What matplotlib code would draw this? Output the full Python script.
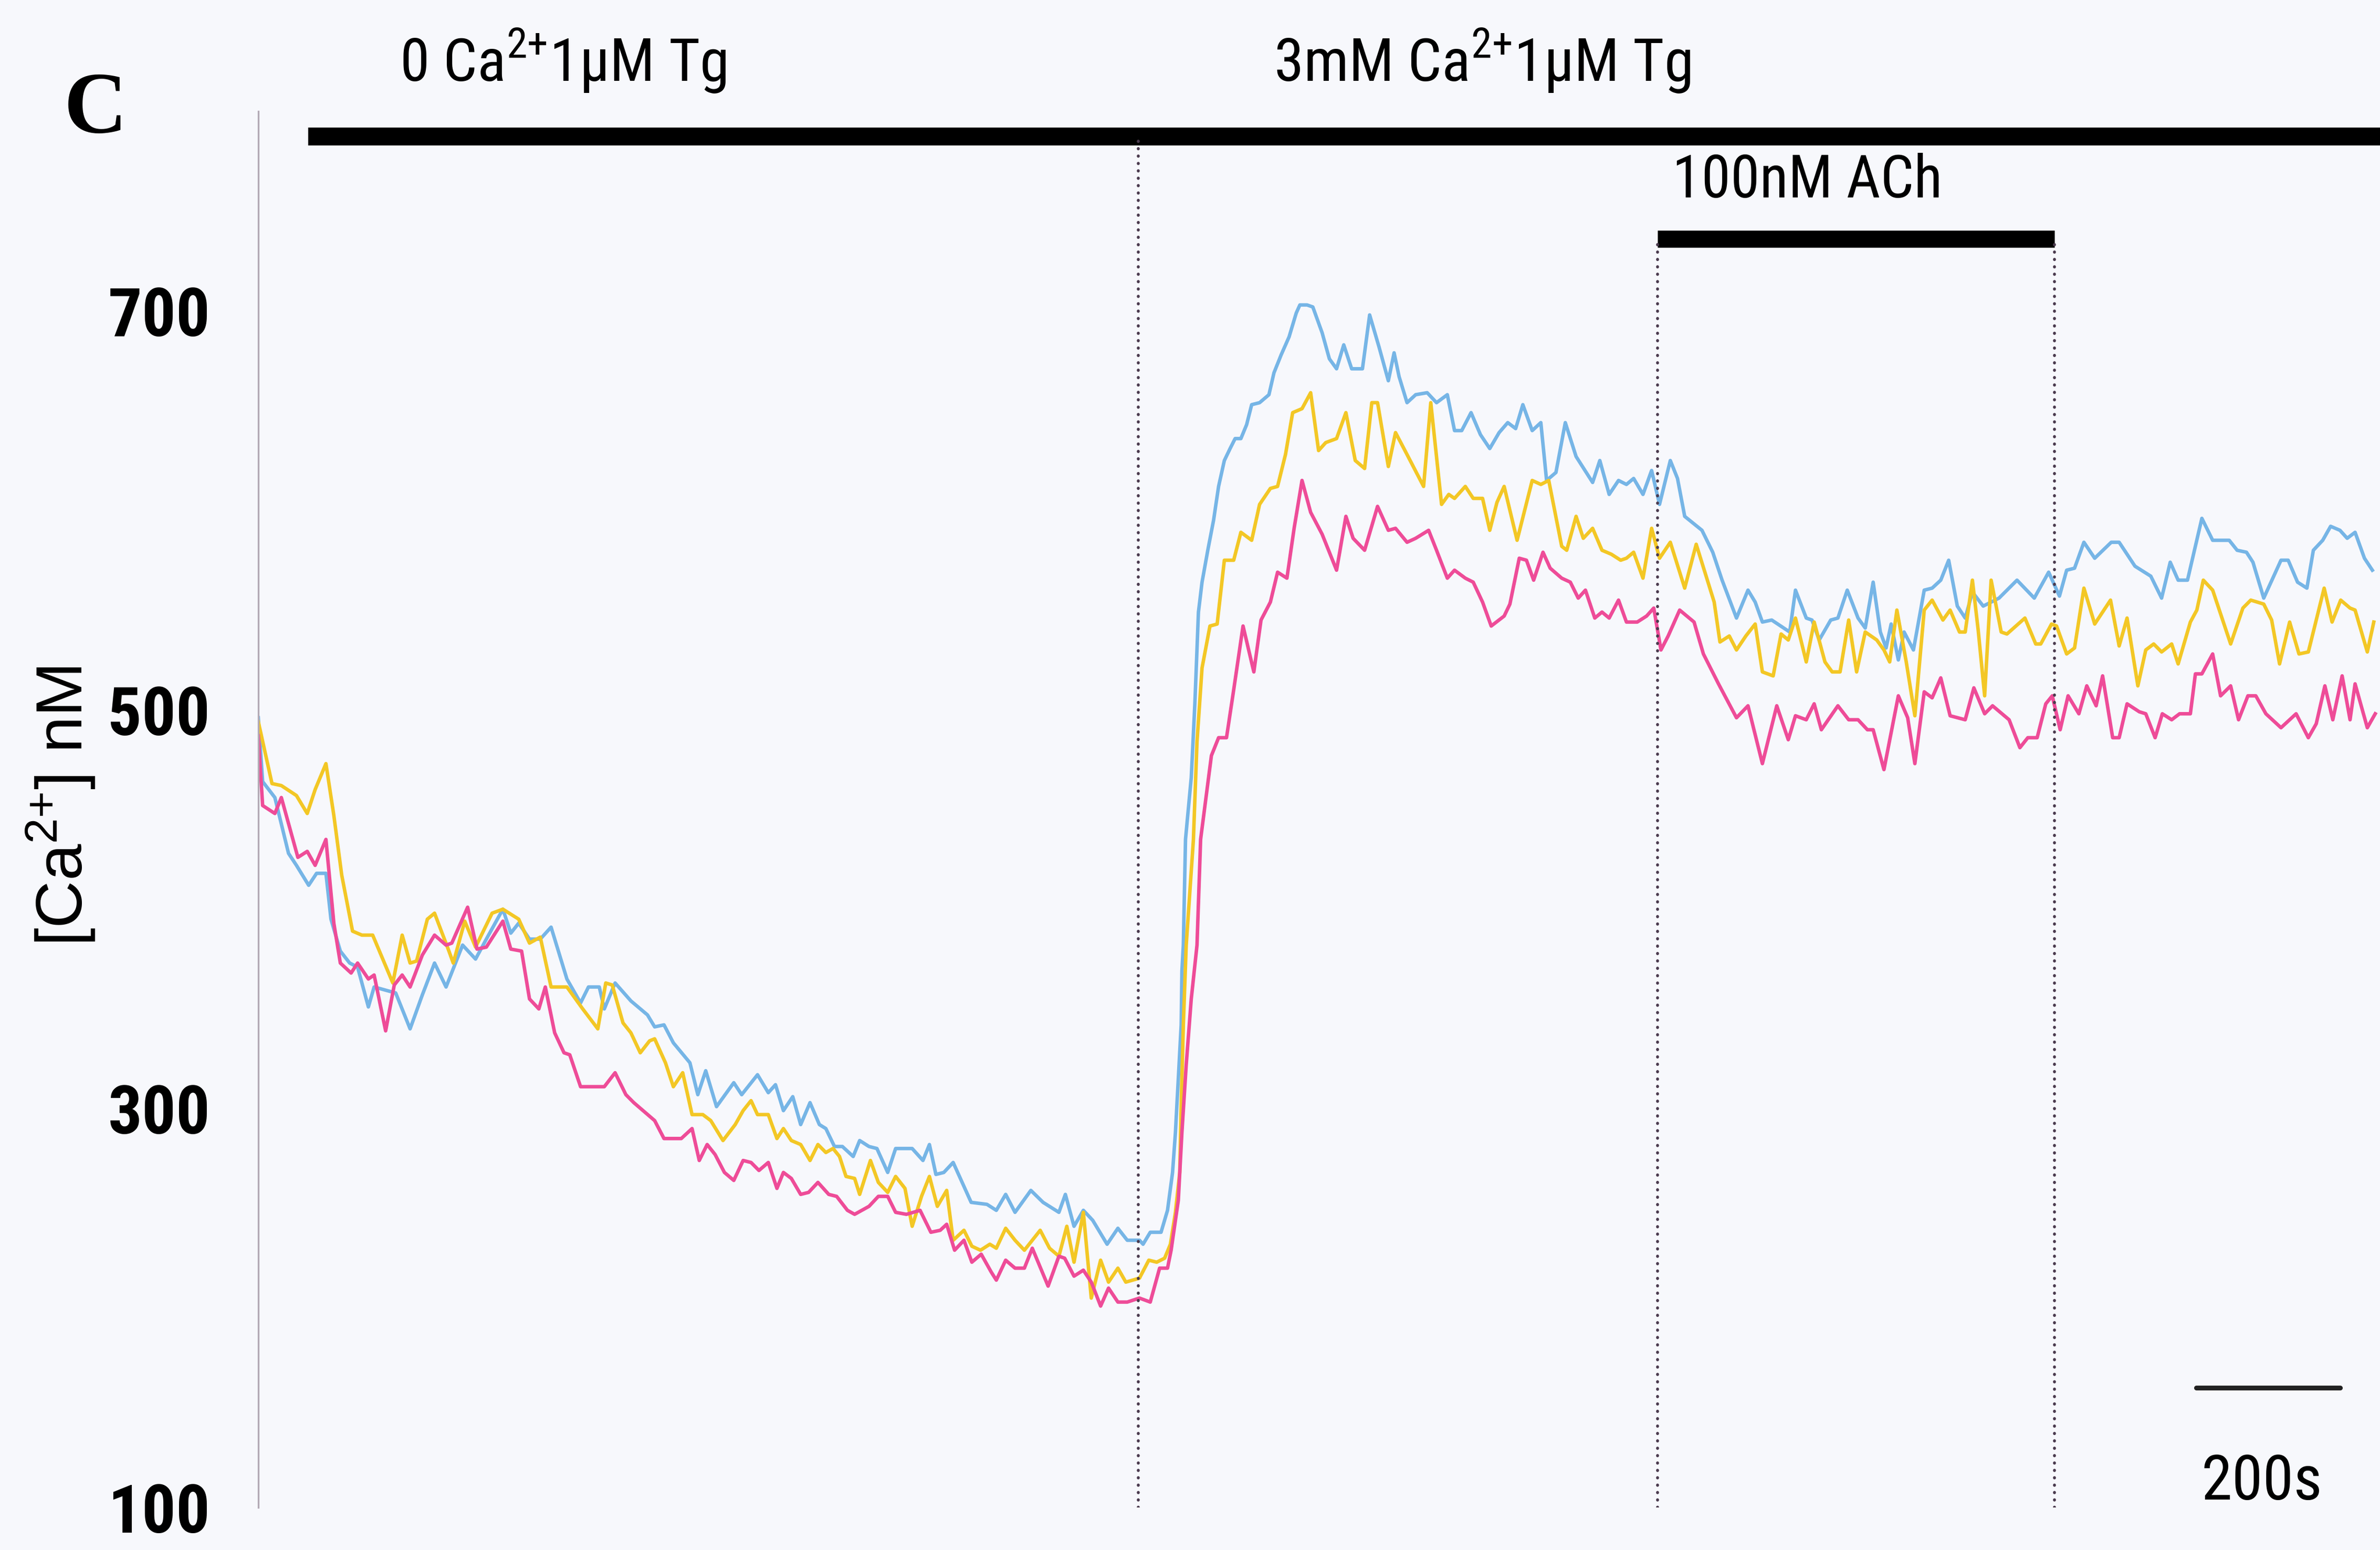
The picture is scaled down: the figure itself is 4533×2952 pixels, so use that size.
import os
import numpy as np
import matplotlib.pyplot as plt
from matplotlib import font_manager
from matplotlib.font_manager import FontProperties

# time (s) and [Ca2+] (nM)
t_blue = [0, 6, 23, 42, 53, 70, 81, 94, 101, 114, 127, 138, 153, 161, 191, 211, 228, 245, 261, 284,
          302, 317, 340, 351, 362, 377, 392, 407, 429, 448, 459, 474, 481, 496, 518, 541,
          551, 564, 577, 600, 611, 622, 637, 661, 672, 694, 709, 719, 730, 743, 754, 767, 780, 789,
          801, 812, 827, 836, 849, 860, 875, 886, 909, 924, 933, 942, 953, 966, 991, 1013,
          1026, 1039, 1052, 1074, 1091, 1113, 1122, 1134, 1147, 1160, 1180, 1195, 1208, 1225, 1230,
          1240, 1255, 1264, 1271, 1275, 1279, 1283, 1284, 1286,
          1289, 1297, 1302, 1307, 1312, 1320, 1328, 1335, 1343, 1351, 1358, 1366, 1374, 1381, 1392,
          1405, 1412, 1422, 1433, 1443, 1448, 1458, 1466, 1479, 1489, 1499, 1509, 1520, 1535, 1545,
          1558, 1571, 1579, 1586, 1597, 1609, 1625, 1638, 1653, 1663, 1673, 1686, 1699, 1712, 1725,
          1737, 1748, 1758, 1771, 1783, 1791, 1804, 1817, 1832, 1855, 1865, 1878, 1891,
          1902, 1912, 1925, 1937, 1948, 1963, 1973, 1983, 2007, 2022, 2035, 2055, 2071, 2081, 2091,
          2104, 2129, 2137, 2152, 2160, 2170, 2186, 2196, 2209, 2224, 2234, 2245, 2255, 2263, 2270,
          2280, 2288, 2301, 2316, 2327, 2339, 2350, 2362, 2373,
          2383, 2398, 2420, 2445, 2469, 2489, 2504, 2514, 2525, 2538, 2553, 2576, 2587, 2609, 2631,
          2646, 2658, 2669, 2682, 2702, 2717, 2740, 2751, 2764, 2773, 2788, 2812, 2822, 2835, 2848,
          2857, 2870, 2881, 2894, 2904, 2915, 2928, 2939]
ca_blue = [496, 464, 456, 428, 422, 412, 418, 418, 395, 379, 373, 371, 351, 361, 358, 340, 357, 373, 361, 382,
           375, 385, 400, 388, 393, 385, 385, 391, 365, 353, 361, 361, 350, 363, 354, 347,
           341, 342, 333, 323, 307, 319, 301, 313, 307, 317, 308, 312, 299, 306, 292, 303, 292, 290,
           281, 281, 276, 284, 281, 280, 268, 280, 280, 274, 282, 267, 268, 273, 253, 252,
           249, 257, 248, 259, 253, 248, 257, 241, 249, 244, 232, 240, 234, 234, 232,
           238, 238, 249, 268, 288, 315, 342, 369, 382,
           435, 466, 503, 549, 564, 580, 595, 612, 625, 631, 636, 636, 643, 653, 654,
           658, 669, 678, 687, 699, 703, 703, 702, 689, 676, 671, 683, 671, 671, 698,
           682, 665, 679, 667, 654, 658, 659, 654, 658, 640, 640, 649, 638, 631, 639,
           644, 641, 653, 640, 644, 615, 619, 644, 627, 614, 625, 608, 615,
           613, 616, 608, 620, 603, 625, 616, 597, 590, 579, 565, 546, 560, 554, 544,
           545, 539, 560, 546, 545, 535, 545, 546, 560, 546, 541, 564, 539, 531, 543,
           525, 539, 530, 560, 561, 565, 575, 552, 546,
           559, 552, 556, 565, 556, 569, 557, 570, 571, 584, 576, 584, 584, 572, 567,
           556, 574, 565, 565, 596, 585, 585, 580, 579, 574, 556, 575, 575, 564, 561,
           580, 585, 592, 590, 586, 589, 576, 570]

t_yellow = [0, 19, 32, 53, 68, 79, 94, 105, 116, 131, 144, 159, 187, 200, 211, 220, 235, 245, 265, 271,
            287, 302, 325, 340, 362, 377, 392, 407, 429, 451, 472, 483, 492, 507, 518, 531, 544,
            551, 566, 577, 590, 603, 618, 629, 646, 663, 674, 685, 694, 709, 721, 730, 741, 754, 767,
            778, 789, 799, 808, 817, 829, 836, 851, 862, 875, 886, 899, 909, 922, 933, 944, 957, 966,
            981, 992, 1004, 1017,
            1026, 1039, 1052, 1065, 1087, 1100, 1113, 1124, 1134, 1147, 1158, 1171, 1182, 1195, 1206,
            1225, 1238, 1249, 1260, 1268, 1275, 1281, 1283, 1286, 1290,
            1300, 1305, 1312, 1323, 1333, 1343, 1356, 1366, 1381, 1392, 1407, 1417, 1428, 1438, 1451,
            1463, 1474, 1484, 1499, 1512, 1525, 1538, 1548, 1556, 1571, 1581, 1597, 1620, 1630, 1645,
            1655, 1663, 1678, 1689, 1702, 1712, 1722, 1732, 1750, 1771, 1783, 1794, 1812, 1819, 1832,
            1842, 1855, 1868, 1881, 1894,
            1902, 1912, 1925, 1937, 1948, 1963, 1983, 1999, 2024, 2032, 2045, 2055, 2068, 2081, 2091,
            2106, 2117, 2127, 2137, 2152, 2163, 2178, 2188, 2199, 2211, 2222, 2234, 2250, 2260, 2268,
            2278, 2291, 2303, 2316, 2327, 2342, 2352, 2365, 2373,
            2383, 2391, 2400, 2409, 2423, 2431, 2456, 2471, 2478, 2493, 2500, 2514, 2525, 2538, 2553,
            2575, 2587, 2598, 2613, 2624, 2635, 2646, 2660, 2669, 2686, 2695, 2704, 2717, 2742, 2759,
            2770, 2788, 2799, 2810, 2824, 2837, 2850, 2872, 2883, 2895, 2908, 2915, 2932, 2941]
ca_yellow = [494, 463, 462, 457, 448, 460, 473, 447, 417, 389, 387, 387, 363, 387, 373, 374, 395, 398, 379, 373,
             394, 381, 398, 400, 395, 383, 386, 361, 361, 350, 340, 363, 362, 343, 338, 328, 334,
             335, 323, 311, 318, 297, 297, 294, 284, 292, 299, 304, 297, 297, 285, 290, 284, 282, 274,
             282, 278, 280, 276, 266, 265, 257, 274, 263, 258, 266, 260, 241, 256, 266, 251, 259, 234,
             239, 231, 229, 232,
             230, 240, 234, 229, 239, 230, 226, 241, 223, 248, 205, 224, 213, 220, 213,
             215, 224, 223, 225, 232, 248, 268, 302, 342, 382,
             435, 484, 521, 542, 543, 575, 575, 589, 585, 603, 611, 612, 628, 649, 651,
             659, 630, 634, 636, 649, 625, 621, 654, 654, 622, 639, 628, 612, 654, 603,
             608, 606, 612, 606, 606, 590, 604, 612, 585, 615, 613, 615, 582, 580, 597,
             586, 591, 580, 578, 575,
             576, 579, 566, 591, 576, 584, 561, 583, 554, 534, 537, 530, 537, 543, 519,
             517, 538, 535, 546, 524, 544, 524, 519, 519, 545, 519, 539, 535, 530, 524,
             550, 524, 497, 550, 555, 545, 550, 539, 539,
             565, 540, 507, 565, 539, 538, 546, 533, 533, 543, 542, 528, 531, 561, 543,
             555, 532, 546, 512, 530, 533, 529, 533, 523, 544, 550, 565, 560, 533, 551,
             555, 553, 545, 523, 544, 528, 529, 561, 544, 555, 551, 550, 529, 544]

t_pink = [0, 6, 23, 32, 55, 68, 79, 94, 105, 114, 129, 138, 153, 161, 177, 189, 200, 211, 228, 245,
          261, 269, 291, 304, 317, 340, 351, 366, 377, 390, 399, 412, 425, 433, 448, 481, 496, 511, 522,
          551, 564, 588, 603, 613, 624, 635, 648, 661, 674, 685, 696, 709, 721, 730, 741, 754, 765,
          778, 793, 804, 819, 829, 849, 862, 875, 886, 901, 920, 935, 948, 957, 968, 981, 992, 1005, 1019,
          1026, 1039, 1052, 1065, 1076, 1098, 1113, 1121, 1134, 1147, 1158, 1171, 1182, 1195, 1208,
          1225, 1240, 1253, 1264, 1269, 1279, 1284, 1290, 1297, 1305,
          1310, 1325, 1335, 1346, 1356, 1369, 1384, 1394, 1407, 1417, 1430, 1440, 1451, 1463, 1479,
          1499, 1512, 1522, 1538, 1556, 1571, 1581, 1597, 1609, 1627, 1638, 1653, 1663, 1678, 1689,
          1702, 1714, 1732, 1740, 1753, 1763, 1773, 1786, 1796, 1812, 1824, 1835, 1845, 1858, 1868,
          1878, 1891,
          1902, 1917, 1930, 1940, 1950, 1960, 1976, 1996, 2009, 2030, 2055, 2071, 2091, 2111, 2127,
          2137, 2152, 2163, 2173, 2196, 2211, 2224, 2237, 2245, 2260, 2280, 2293, 2303, 2316, 2327,
          2339, 2352, 2373,
          2385, 2400, 2411, 2434, 2449, 2460, 2473, 2485, 2494, 2505, 2516, 2531, 2542, 2555, 2564,
          2578, 2587, 2598, 2615, 2624, 2637, 2647, 2660, 2671, 2686, 2693, 2702, 2717, 2728, 2742,
          2753, 2766, 2777, 2791, 2812, 2833, 2850, 2861, 2873, 2884, 2897, 2908, 2915, 2932, 2943]
ca_pink = [487, 452, 448, 456, 426, 429, 422, 435, 393, 373, 368, 373, 365, 367, 339, 362, 367, 361, 377, 387,
           382, 383, 401, 380, 381, 394, 380, 379, 355, 350, 361, 338, 328, 327, 311, 311, 318, 307, 303,
           294, 285, 285, 290, 274, 282, 277, 268, 264, 274, 273, 269, 273, 260, 268, 265, 257, 258,
           263, 257, 256, 249, 247, 251, 256, 256, 248, 247, 249, 238, 239, 242, 229, 234, 223, 227, 218,
           214, 224, 220, 220, 230, 211, 226, 225, 216, 219, 213, 201, 210, 203, 203,
           205, 203, 220, 220, 229, 254, 288, 322, 355, 382,
           435, 477, 486, 486, 510, 542, 519, 545, 554, 569, 566, 591, 615, 599, 588,
           570, 597, 586, 580, 602, 590, 591, 584, 586, 590, 580, 566, 570, 566, 564,
           554, 542, 547, 553, 576, 575, 565, 579, 571, 566, 564, 556, 560, 546, 549,
           546, 555,
           544, 544, 547, 551, 530, 537, 550, 544, 528, 513, 496, 502, 473, 502, 485,
           497, 495, 503, 490, 502, 495, 495, 490, 490, 470, 507, 496, 473, 509, 506,
           516, 497, 495,
           511, 498, 502, 495, 481, 486, 486, 503, 507, 490, 507, 498, 512, 502, 517,
           486, 486, 503, 499, 498, 486, 498, 495, 498, 498, 518, 518, 528, 507, 512,
           495, 507, 507, 498, 491, 498, 486, 493, 512, 495, 517, 495, 513, 491, 498]

y_ticks = [100, 300, 500, 700]
y_ticklabels = ['100', '300', '500', '700']
divider_times = [1223, 1945, 2497]      # dotted lines: Ca2+ added, ACh on, ACh off
ach_on, ach_off = 1945, 2497
main_bar_start = 69


# the figure uses a narrow sans; take the narrowest one that is installed
def narrow_font(bold):
    if bold:
        names = ['liberationsansnarrow-bold', 'arialnb', 'notosans-extracondensedbold',
                 'notosans-condensedbold', 'robotocondensed-bold', 'dejavusanscondensed-bold']
    else:
        names = ['liberationsansnarrow-regular', 'arialn', 'notosans-extracondensed',
                 'notosans-condensed', 'robotocondensed-regular', 'dejavusanscondensed']
    files = {os.path.splitext(os.path.basename(f.fname))[0].lower(): f.fname
             for f in font_manager.fontManager.ttflist}
    for n in names:
        if n in files:
            return FontProperties(fname=files[n])
    return FontProperties(family='Liberation Sans', weight='bold' if bold else 'normal')


fp_reg = narrow_font(False)
fp_bold = narrow_font(True)

W, H = 4533, 2952
left_px, bottom_px = 492, 2871
px_per_s, px_per_nm = 1.37, 3.798
bg = '#f7f8fc'

fig = plt.figure(figsize=(W / 300, H / 300), dpi=300, facecolor=bg)
renderer = fig.canvas.get_renderer()


def fit(txt, width_px, size):
    # balance the reference's letter height against its text width
    txt.set_fontsize(size)
    w = txt.get_window_extent(renderer).width
    txt.set_fontsize((size * size * width_px / w) ** 0.5)
    return txt


ax = fig.add_axes([left_px / W, 1 - bottom_px / H, 1 - left_px / W, bottom_px / H])
ax.set_facecolor('none')
xmax = (W - left_px) / px_per_s
ax.set_xlim(0, xmax)
ax.set_ylim(100, 100 + bottom_px / px_per_nm)

ax.plot(t_blue, ca_blue, color='#76b5e6', lw=1.6)
ax.plot(t_yellow, ca_yellow, color='#f3c725', lw=1.6)
ax.plot(t_pink, ca_pink, color='#ee4c98', lw=1.6)

# solution bars
ax.plot([main_bar_start, xmax], [787.5, 787.5], color='black', lw=8.2,
        solid_capstyle='butt', clip_on=False)
ax.plot([ach_on, ach_off], [736, 736], color='black', lw=7.8, solid_capstyle='butt')

# dotted markers
for i, tx in enumerate(divider_times):
    top = 787.5 if i == 0 else 736
    ax.plot([tx, tx], [100, top], color='#4a3a4e', lw=1.35,
            linestyle=(0, (0.1, 2.4)), dash_capstyle='round')

# 200 s scale bar
ax.plot([2694, 2894], [160, 160], color='#222222', lw=2.2, solid_capstyle='round')
fit(ax.text(2785, 104, '200s', ha='center', va='baseline', fontproperties=fp_reg), 200, 33)

sup = '$^{\\mathregular{2{+}}}$'
fit(ax.text(196, 815, '0 Ca' + sup + '1µM Tg', ha='left', va='baseline',
            fontproperties=fp_reg, clip_on=False), 570, 30)
fit(ax.text(1412, 815, '3mM Ca' + sup + '1µM Tg', ha='left', va='baseline',
            fontproperties=fp_reg, clip_on=False), 725, 30)
fit(ax.text(1966, 757, '100nM ACh', ha='left', va='baseline', fontproperties=fp_reg), 480, 29)

# axis styling: only a light left spine
for s in ['top', 'right', 'bottom']:
    ax.spines[s].set_visible(False)
ax.spines['left'].set_bounds(100, 800)
ax.spines['left'].set_color('#b3aab5')
ax.spines['left'].set_linewidth(0.8)
ax.set_xticks([])

probe = fit(fig.text(0, 0, '700', fontproperties=fp_bold), 172, 35)
tick_size = probe.get_fontsize()
probe.remove()
ax.set_yticks(y_ticks)
ax.set_yticklabels(y_ticklabels, fontproperties=fp_bold)
for lab in ax.get_yticklabels():
    lab.set_fontsize(tick_size)
ax.tick_params(axis='y', which='major', length=0, pad=22)
ax.set_yticks([100, 700], minor=True)
ax.tick_params(axis='y', which='minor', length=8, width=0.8, color='#b3aab5')

fig.text(116 / W, 1 - 1535 / H, '[Ca' + sup + '] nM', rotation=90, ha='center',
         va='center', fontfamily='Liberation Sans', fontsize=30)
fig.text(182 / W, 1 - 252 / H, 'C', ha='center', va='baseline', fontfamily='Liberation Serif',
         fontweight='bold', fontsize=40)

fig.savefig('out.png', dpi=300, facecolor=bg)
